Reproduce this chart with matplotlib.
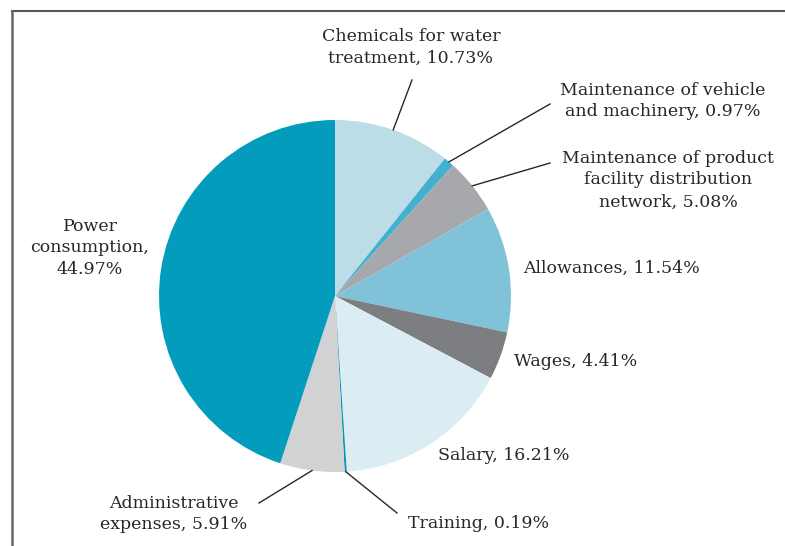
import numpy as np
import matplotlib.pyplot as plt
from matplotlib.lines import Line2D

# cost shares, clockwise from 12 o'clock
labels = [
    "Chemicals for water\ntreatment, 10.73%",
    "Maintenance of vehicle\nand machinery, 0.97%",
    "Maintenance of product\nfacility distribution\nnetwork, 5.08%",
    "Allowances, 11.54%",
    "Wages, 4.41%",
    "Salary, 16.21%",
    "Training, 0.19%",
    "Administrative\nexpenses, 5.91%",
    "Power\nconsumption,\n44.97%",
]
shares = [10.73, 0.97, 5.08, 11.54, 4.41, 16.21, 0.19, 5.91, 44.97]
colors = ["#bcdde7", "#42b0cf", "#a7a8ab", "#80c3d8", "#7d7e82",
          "#dbecf3", "#0a93b5", "#d1d2d4", "#049cbd"]

W, H = 785, 546
fig = plt.figure(figsize=(W / 100, H / 100), dpi=100)
ax = fig.add_axes([0, 0, 1, 1])

cx, cy, r = 335, H - 296, 176
wedges, _ = ax.pie(shares, colors=colors, startangle=90, counterclock=False,
                   center=(cx, cy), radius=r, wedgeprops=dict(linewidth=0))
ax.set_xlim(0, W)
ax.set_ylim(0, H)
ax.set_aspect("equal")
ax.axis("off")

ink = "#2a2627"
font = dict(family="DejaVu Serif", fontsize=12.5, color=ink, linespacing=1.38)

# label placement (pixel coords from top-left), alignment, leader end point
layout = [
    ((411, 47), "center", (412, 80)),
    ((663, 101), "center", (550, 104)),
    ((668, 180), "center", (550, 163)),
    ((523, 268), "left", None),
    ((514, 361), "left", None),
    ((438, 456), "left", None),
    ((408, 523), "left", (397, 513)),
    ((174, 514), "center", (259, 503)),
    ((90, 248), "center", None),
]

for w, lab, ((tx, ty), ha, end) in zip(wedges, labels, layout):
    ax.text(tx, H - ty, lab, ha=ha, va="center", multialignment="center", **font)
    if end is not None:
        mid = np.deg2rad((w.theta1 + w.theta2) / 2)
        px, py = cx + r * np.cos(mid), cy + r * np.sin(mid)
        ax.plot([px, end[0]], [py, H - end[1]], color=ink, linewidth=1.0)

# open frame: top and left rules
fig.add_artist(Line2D([12 / W, 1], [1 - 11 / H] * 2, color="#555555", linewidth=1.5))
fig.add_artist(Line2D([12 / W] * 2, [0, 1 - 11 / H], color="#666666", linewidth=1.8))

fig.savefig("out.png", dpi=100, facecolor="white")
